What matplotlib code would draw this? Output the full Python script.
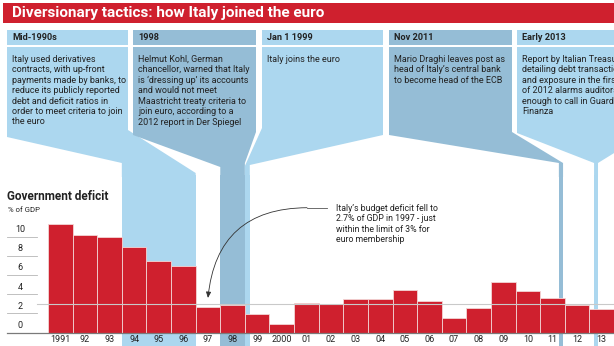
import matplotlib.pyplot as plt
from matplotlib.patches import Polygon, Rectangle

plt.rcParams['font.family'] = ['Roboto', 'DejaVu Sans']

# data
years = list(range(1991, 2014))
deficit = [11.3, 10.2, 9.9, 8.9, 7.4, 6.9, 2.7, 2.9, 1.9, 0.9, 3.1, 3.0,
           3.5, 3.5, 4.4, 3.3, 1.5, 2.6, 5.3, 4.3, 3.6, 2.9, 2.4]
year_labels = ['1991', '92', '93', '94', '95', '96', '97', '98', '99', '2000',
               '01', '02', '03', '04', '05', '06', '07', '08', '09', '10',
               '11', '12', '13']
y_ticks = [0, 2, 4, 6, 8, 10]
limit = 3

event_dates = ['Mid-1990s', '1998', 'Jan 1 1999', 'Nov 2011', 'Early 2013']
event_texts = [
    'Italy used derivatives\ncontracts, with up-front\npayments made by banks, to\n'
    'reduce its publicly reported\ndebt and deficit ratios in\norder to meet criteria to join\nthe euro',
    'Helmut Kohl, German\nchancellor, warned that Italy\nis \u2018dressing up\u2019 its accounts\n'
    'and would not meet\nMaastricht treaty criteria to\njoin euro, according to a\n2012 report in Der Spiegel',
    'Italy joins the euro',
    'Mario Draghi leaves post as\nhead of Italy\u2019s central bank\nto become head of the ECB',
    'Report by Italian Treasury\ndetailing debt transactions\nand exposure in the first half\n'
    'of 2012 alarms auditors\nenough to call in Guardia di\nFinanza',
]
# periods each event refers to, in years
event_spans = [(1993.5, 1996.5), (1997.5, 1998.5), (1998.5, 1998.7),
               (2011.26, 2011.43), (2012.69, 2012.85)]

note = ('Italy\u2019s budget deficit fell to\n2.7% of GDP in 1997 - just\n'
        'within the limit of 3% for\neuro membership')

RED = '#cf202e'
LIGHT = '#acd7ef'
DARK = '#95bdd6'
TEXT = '#222222'
box_colors = [LIGHT, DARK, LIGHT, DARK, LIGHT]

# layout in pixels (figure is 614 x 346)
W, H = 614, 346
X0_PX = 48          # left edge of first bar
UNIT = (W - X0_PX) / len(years)
ZERO_PX = 332.5
PX_PER_PCT = 9.6
AX_TOP = 175


def year_px(v):
    return X0_PX + (v - 1990.5) * UNIT


def px_year(p):
    return 1990.5 + (p - X0_PX) / UNIT


# box outlines: left, right, left-bottom y, right-bottom y, y where funnel meets band (left, right)
boxes = [
    (7, 128, 137, 130, 163, 173),
    (133, 256, 135, 132, 167, 163),
    (262, 383, 128, 135, 166, 165),
    (389, 512, 135, 132, 163, 163),
    (517, 640, 133, 137, 163, 163),
]

fig = plt.figure(figsize=(W / 100, H / 100), dpi=100)
bg = fig.add_axes([0, 0, 1, 1])
bg.set_xlim(0, W)
bg.set_ylim(H, 0)
bg.axis('off')

# title bar
bg.add_patch(Rectangle((3, 3), W, 19.5, color=RED, lw=0))
bg.text(12, 13, 'Diversionary tactics: how Italy joined the euro', color='white',
        fontsize=11, fontweight='bold', va='center', ha='left')

for (left, right, yl, yr, ml, mr), (a, b), col, date, txt in zip(
        boxes, event_spans, box_colors, event_dates, event_texts):
    bl, br = year_px(a), year_px(b)
    bg.add_patch(Rectangle((left, 30), right - left, 15, color=col, lw=0))
    bg.add_patch(Polygon([(left, 47), (right, 47), (right, yr), (br, mr),
                          (br, AX_TOP + 2), (bl, AX_TOP + 2), (bl, ml), (left, yl)],
                         closed=True, color=col, lw=0))
    bg.text(left + 5, 37.8, date, fontsize=6.6, fontweight='bold', color=TEXT,
            va='center', ha='left')
    bg.text(left + 5, 55, txt, fontsize=6.5, color=TEXT, va='top', ha='left',
            linespacing=1.2)

bg.text(7, 197, 'Government deficit', fontsize=8.5, fontweight='bold', color=TEXT,
        va='center', ha='left')
bg.text(8, 209.5, '% of GDP', fontsize=5.6, color=TEXT, va='center', ha='left')

# bar chart
ax = fig.add_axes([0, 0, 1, (H - AX_TOP) / H])
ax.set_xlim(px_year(0), px_year(W))
ax.set_ylim(-(H - ZERO_PX) / PX_PER_PCT, (ZERO_PX - AX_TOP) / PX_PER_PCT)
ax.axis('off')
ax.patch.set_visible(False)

for (a, b), col in zip(event_spans, box_colors):
    ax.axvspan(a, b, color=col, lw=0, zorder=0)

ax.bar(years, deficit, width=1, color=RED, edgecolor='#f3d6d6', linewidth=0.6, zorder=2)

ax.plot([px_year(37), px_year(W)], [limit, limit], color='#c9c9c9', lw=0.8, zorder=3)
ax.plot([px_year(7), px_year(W)], [0, 0], color='#7a7a7a', lw=0.9, zorder=3)
for t in y_ticks:
    if t > 0:
        ax.plot([px_year(7), px_year(37)], [t, t], color='#b5b5b5', lw=0.6, zorder=3)
    ax.text(px_year(20), t + 0.72, str(t), fontsize=6.5, color=TEXT,
            ha='center', va='center')

for yr, lab in zip(years, year_labels):
    ax.text(yr, -0.72, lab, fontsize=6.5, color=TEXT, ha='center', va='center', zorder=4)

# annotation for 1997
ax.annotate('', xy=(1997, 3.6), xytext=(px_year(307), 13.0),
            arrowprops=dict(arrowstyle='-|>,head_length=0.35,head_width=0.15',
                            connectionstyle='arc3,rad=0.45', color='#333333',
                            lw=0.6, shrinkA=0, shrinkB=0), zorder=4)
ax.plot([px_year(307), px_year(327)], [13.0, 13.0], color='#555555', lw=0.6, zorder=4)
ax.text(px_year(336), 13.4, note, fontsize=6.3, color=TEXT, ha='left', va='top',
        linespacing=1.22, zorder=4)

fig.savefig('out.png', dpi=100)
